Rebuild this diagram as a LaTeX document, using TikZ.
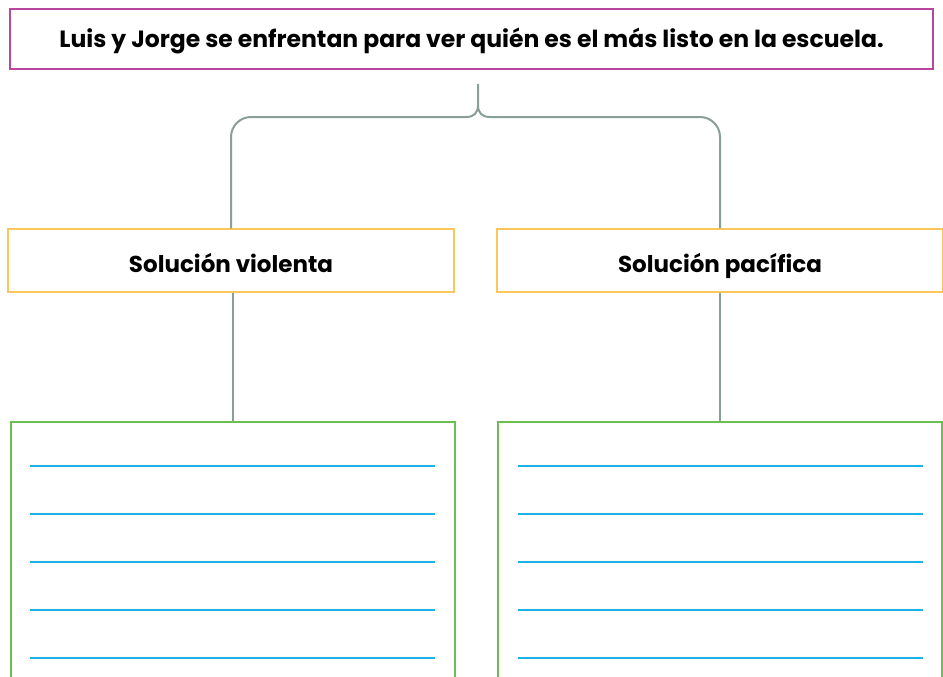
\documentclass[tikz,border=0pt]{standalone}
\usepackage{fontspec}
\setmainfont{Poppins}
\definecolor{topc}{HTML}{B9479F}
\definecolor{yelc}{HTML}{FBC75A}
\definecolor{grnc}{HTML}{6DBE50}
\definecolor{bluc}{HTML}{1AB3E8}
\definecolor{grayc}{HTML}{8AA097}
\tikzset{
  titlebox/.style={draw=topc, line width=1.5pt, minimum width=923pt, minimum height=60pt, inner sep=0pt, text height=18pt, text depth=0pt, font=\fontsize{23.5}{26}\selectfont\bfseries},
  headbox/.style={draw=yelc, line width=1.5pt, minimum width=446pt, minimum height=63pt, inner sep=0pt, text height=24pt, text depth=0pt, font=\fontsize{23}{26}\selectfont\bfseries},
  answerbox/.style={draw=grnc, line width=1.5pt, minimum width=444pt, minimum height=280pt, inner sep=0pt},
  link/.style={draw=grayc, line width=2pt},
  writeline/.style={draw=bluc, line width=2pt}
}
\begin{document}
\begin{tikzpicture}[x=1pt,y=-1pt]
\clip (0,0) rectangle (943,677);
\fill[white] (0,0) rectangle (943,677);
\node[titlebox] (title) at (471.5,39) {Luis y Jorge se enfrentan para ver quién es el más listo en la escuela.};
\node[headbox] (sv) at (231,260.5) {Solución violenta};
\node[headbox] (sp) at (720,260.5) {Solución pacífica};
\node[answerbox, anchor=north] (av) at (233,421) {};
\node[answerbox, anchor=north] (ap) at (720,421) {};
\coordinate (bracetop) at (478,84);
% brace
\draw[link] (bracetop) -- (478,105) .. controls (478,113) and (474,117) .. (466,117);
\draw[link, rounded corners=20pt] (466,117) -- (sv.north |- 0,117) -- (sv.north);
\draw[link] (478,105) .. controls (478,113) and (482,117) .. (490,117);
\draw[link, rounded corners=20pt] (490,117) -- (sp.north |- 0,117) -- (sp.north);
% lower links
\draw[link] (sv.south -| av.north) -- (av.north);
\draw[link] (sp.south) -- (ap.north);
% writing lines
\foreach \y in {466,514,562,610,658} {
  \draw[writeline] ([xshift=-203pt]av.north |- 0,\y) -- ([xshift=202pt]av.north |- 0,\y);
  \draw[writeline] ([xshift=-202pt]ap.north |- 0,\y) -- ([xshift=203pt]ap.north |- 0,\y);
}
\end{tikzpicture}
\end{document}
